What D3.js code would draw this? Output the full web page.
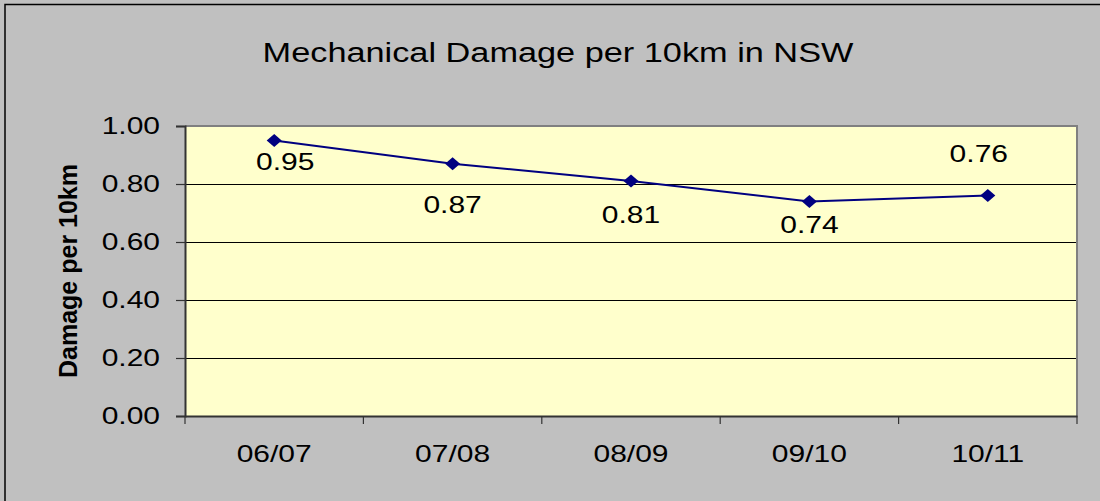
<!DOCTYPE html>
<html>
<head>
<meta charset="utf-8">
<script src="https://cdn.jsdelivr.net/npm/d3@7"></script>
<style>
  html, body { margin: 0; padding: 0; background: #C0C0C0; }
  svg { display: block; }
  text { font-family: "Liberation Sans", Arial, sans-serif; fill: #000; }
</style>
</head>
<body>
<svg id="chart" width="1100" height="501"></svg>
<script>
const categories = ["06/07", "07/08", "08/09", "09/10", "10/11"];
const values = [0.95, 0.87, 0.81, 0.74, 0.76];
const labels = ["0.95", "0.87", "0.81", "0.74", "0.76"];
const yTicks = [0, 0.2, 0.4, 0.6, 0.8, 1.0];
const titleText = "Mechanical Damage per 10km in NSW";
const yTitleText = "Damage per 10km";
// label placement relative to each point (dx, dy baseline) as placed in the original
const labelDx = [11, 0, 0, 0, -9];
const labelDy = [29.5, 49.5, 42, 32, -34];

const W = 1100, H = 501;
const plot = { left: 185, right: 1077, top: 126, bottom: 416 };
const SX = 1.25; // horizontal stretch of text in the reference

const svg = d3.select("#chart");

svg.append("rect").attr("x", 0).attr("y", 0).attr("width", W).attr("height", H).attr("fill", "#C0C0C0");
// outer chart border (only top/left visible)
svg.append("path")
  .attr("d", `M5,${H + 5} L5,4.5 L${W + 5},4.5`)
  .attr("fill", "none").attr("stroke", "#000").attr("stroke-width", 1.5);

const x = d3.scaleBand().domain(categories).range([plot.left, plot.right]).padding(0);
const y = d3.scaleLinear().domain([0, 1]).range([plot.bottom, plot.top]);

// plot area
svg.append("rect")
  .attr("x", plot.left).attr("y", plot.top)
  .attr("width", plot.right - plot.left).attr("height", plot.bottom - plot.top)
  .attr("fill", "#FFFFCC");

// gridlines
svg.append("g").selectAll("line")
  .data(yTicks.filter(v => v > 0 && v < 1))
  .join("line")
  .attr("x1", plot.left).attr("x2", plot.right)
  .attr("y1", d => Math.round(y(d)) + 0.5).attr("y2", d => Math.round(y(d)) + 0.5)
  .attr("stroke", "#000").attr("stroke-width", 1);

// plot border top/right
svg.append("path")
  .attr("d", `M${plot.left},${plot.top} L${plot.right},${plot.top} L${plot.right},${plot.bottom}`)
  .attr("fill", "none").attr("stroke", "#808080").attr("stroke-width", 2);

// Y axis
const yAxis = svg.append("g")
  .attr("transform", `translate(${plot.left},0)`)
  .call(d3.axisLeft(y).tickValues(yTicks).tickFormat(d3.format(".2f")).tickSize(9).tickPadding(11));
yAxis.select(".domain").attr("stroke", "#333").attr("stroke-width", 2);
yAxis.selectAll(".tick line").attr("stroke", "#333").attr("stroke-width", 1.2);
yAxis.selectAll(".tick text")
  .attr("font-size", 24).attr("font-family", "Liberation Sans, Arial, sans-serif")
  .attr("fill", "#000")
  .attr("transform", `scale(${SX},1)`);

// X axis: labels centered in bands
const xAxis = svg.append("g")
  .attr("transform", `translate(0,${plot.bottom})`)
  .call(d3.axisBottom(x).tickSize(0).tickPadding(29));
xAxis.select(".domain").attr("stroke", "#333").attr("stroke-width", 2);
xAxis.selectAll(".tick text")
  .attr("font-size", 24).attr("font-family", "Liberation Sans, Arial, sans-serif")
  .attr("fill", "#000")
  .each(function() {
    const t = d3.select(this);
    t.attr("transform", `scale(${SX},1)`);
  });
// x tick marks at category boundaries
const boundaries = categories.map(c => x(c)).concat([x.range()[1]]);
xAxis.append("g").selectAll("line")
  .data(boundaries)
  .join("line")
  .attr("x1", d => d).attr("x2", d => d)
  .attr("y1", 0).attr("y2", 8)
  .attr("stroke", "#333").attr("stroke-width", 1.2);

// line
const cx = (c) => x(c) + x.bandwidth() / 2;
const line = d3.line().x((d, i) => cx(categories[i])).y(d => y(d));
svg.append("path")
  .datum(values)
  .attr("d", line)
  .attr("fill", "none").attr("stroke", "#000080").attr("stroke-width", 2);

// diamond markers
svg.append("g").selectAll("path")
  .data(values)
  .join("path")
  .attr("transform", (d, i) => `translate(${cx(categories[i])},${y(d)})`)
  .attr("d", "M0,-6.5 L7.5,0 L0,6.5 L-7.5,0 Z")
  .attr("fill", "#000080");

// data labels
svg.append("g").selectAll("text")
  .data(values)
  .join("text")
  .attr("transform", (d, i) => `translate(${cx(categories[i]) + labelDx[i]},${y(d) + labelDy[i]}) scale(${SX},1)`)
  .attr("text-anchor", "middle")
  .attr("font-size", 24)
  .text((d, i) => labels[i]);

// title
svg.append("text")
  .attr("transform", `translate(558,62) scale(1.27,1)`)
  .attr("text-anchor", "middle")
  .attr("font-size", 27)
  .text(titleText);

// y title
svg.append("text")
  .attr("transform", `translate(77,${(plot.top + plot.bottom) / 2}) rotate(-90)`)
  .attr("text-anchor", "middle")
  .attr("font-size", 25)
  .attr("font-weight", "bold")
  .text(yTitleText);
</script>
</body>
</html>
